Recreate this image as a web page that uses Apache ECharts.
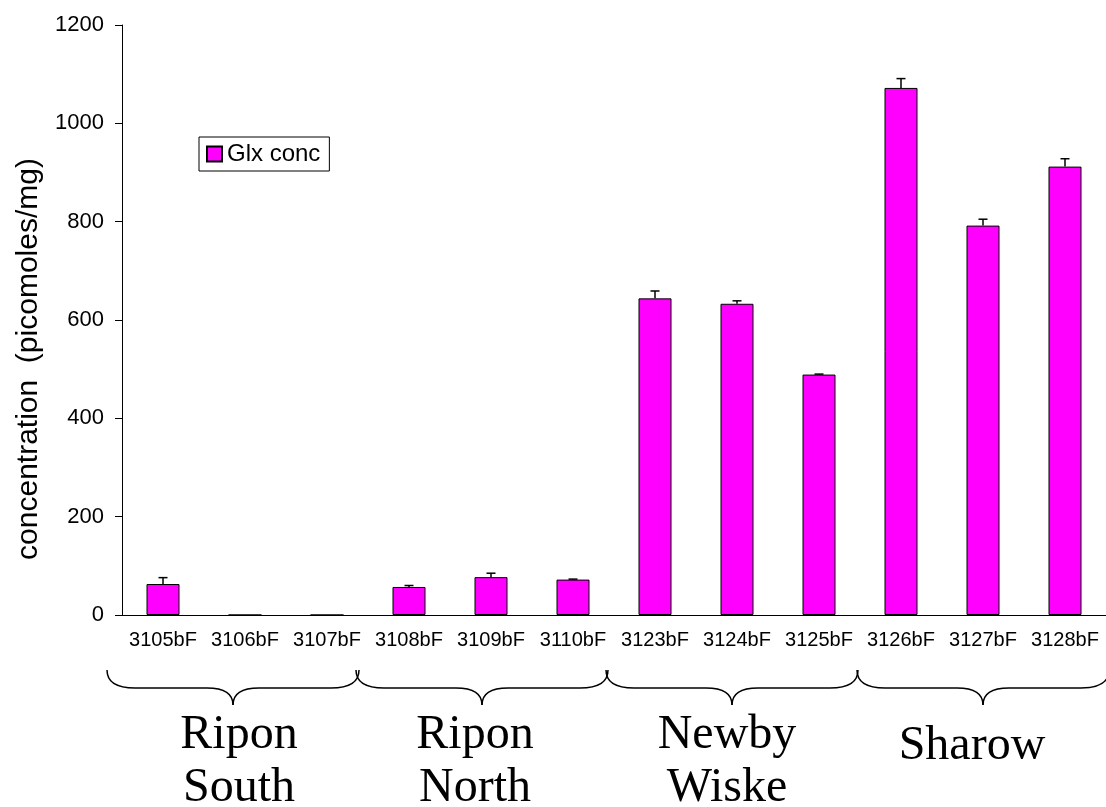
<!DOCTYPE html>
<html>
<head>
<meta charset="utf-8">
<script src="https://cdn.jsdelivr.net/npm/echarts@6/dist/echarts.min.js"></script>
<style>
  html, body { margin: 0; padding: 0; background: #fff; }
  #chart { width: 1106px; height: 807px; }
</style>
</head>
<body>
<div id="chart"></div>
<script>
// muestras y valores
var muestras = ['3105bF', '3106bF', '3107bF', '3108bF', '3109bF', '3110bF',
                '3123bF', '3124bF', '3125bF', '3126bF', '3127bF', '3128bF'];
var glxConc = [63, 0, 0, 57, 77, 72, 644, 633, 489, 1072, 792, 912];
var glxErr = [13, 0, 0, 3, 8, 1, 15, 6, 1, 19, 13, 16];
var yTicks = { min: 0, max: 1200, interval: 200 };

// grupos (indice de la primera y ultima muestra)
var grupos = [
    { nombre: 'Ripon\nSouth', desde: 0, hasta: 2 },
    { nombre: 'Ripon\nNorth', desde: 3, hasta: 5 },
    { nombre: 'Newby\nWiske', desde: 6, hasta: 8 },
    { nombre: 'Sharow', desde: 9, hasta: 11 }
];

var chart = echarts.init(document.getElementById('chart'));
var sans = 'Liberation Sans, Arial, sans-serif';

var errData = glxConc.map(function (v, i) { return [i, v, glxErr[i]]; });

var option = {
    backgroundColor: '#fff',
    animation: false,
    grid: { left: 122, top: 25, width: 989, height: 590 },
    legend: {
        left: 199,
        top: 137,
        padding: [5, 9, 5, 7],
        borderColor: '#000',
        borderWidth: 1,
        itemWidth: 15,
        itemHeight: 15,
        icon: 'rect',
        textStyle: { fontFamily: sans, fontSize: 24, color: '#000' },
        data: ['Glx conc']
    },
    xAxis: {
        type: 'category',
        data: muestras,
        axisLine: { lineStyle: { color: '#000', width: 1 } },
        axisTick: { length: 7, lineStyle: { color: '#000' } },
        axisLabel: { color: '#000', fontFamily: sans, fontSize: 20, margin: 15, interval: 0 }
    },
    yAxis: {
        type: 'value',
        min: yTicks.min,
        max: yTicks.max,
        interval: yTicks.interval,
        splitLine: { show: false },
        axisLine: { show: true, lineStyle: { color: '#000', width: 1 } },
        axisTick: { show: true, length: 7, lineStyle: { color: '#000' } },
        axisLabel: {
            color: '#000', fontFamily: sans, fontSize: 22, margin: 18,
            formatter: function (v) { return String(v); }
        }
    },
    series: [
        {
            name: 'Glx conc',
            type: 'bar',
            data: glxConc,
            barWidth: 33,
            itemStyle: { color: '#FF00FF', borderColor: '#000', borderWidth: 1 }
        },
        {
            name: 'err',
            type: 'custom',
            data: errData,
            z: 5,
            renderItem: function (params, api) {
                var e = api.value(2);
                if (!e) return null;
                var base = api.coord([api.value(0), api.value(1)]);
                var top = api.coord([api.value(0), api.value(1) + e]);
                var st = { stroke: '#000', lineWidth: 1.5 };
                return {
                    type: 'group',
                    children: [
                        { type: 'line', shape: { x1: base[0], y1: base[1], x2: top[0], y2: top[1] }, style: st },
                        { type: 'line', shape: { x1: top[0] - 4.5, y1: top[1], x2: top[0] + 4.5, y2: top[1] }, style: st }
                    ]
                };
            }
        }
    ]
};

chart.setOption(option);

// titulo del eje y, llaves y nombres de los grupos bajo el eje
var graficos = [{
    type: 'text',
    x: 29,
    y: 359,
    rotation: Math.PI / 2,
    style: {
        text: 'concentration  (picomoles/mg)',
        fontFamily: sans,
        fontSize: 30,
        fill: '#000',
        align: 'center',
        verticalAlign: 'middle'
    }
}];

var llaveDx = [-12, -9, -5, 0];
var textoDx = [-6, -16, -10, -11];
var medioAncho = 126;
var trazo = { stroke: '#000', lineWidth: 1.5, fill: null };
grupos.forEach(function (g, i) {
    var c0 = chart.convertToPixel({ xAxisIndex: 0 }, g.desde);
    var c1 = chart.convertToPixel({ xAxisIndex: 0 }, g.hasta);
    var tip = (c0 + c1) / 2 + llaveDx[i];
    var x0 = tip - medioAncho;
    var x1 = tip + medioAncho;
    var yT = 670, yM = 688, yP = 705;
    graficos.push(
        { type: 'bezierCurve', shape: { x1: x0, y1: yT, cpx1: x0, cpy1: yM, x2: x0 + 28, y2: yM }, style: trazo },
        { type: 'line', shape: { x1: x0 + 28, y1: yM, x2: tip - 26, y2: yM }, style: trazo },
        { type: 'bezierCurve', shape: { x1: tip - 26, y1: yM, cpx1: tip, cpy1: yM, x2: tip, y2: yP }, style: trazo },
        { type: 'bezierCurve', shape: { x1: tip + 26, y1: yM, cpx1: tip, cpy1: yM, x2: tip, y2: yP }, style: trazo },
        { type: 'line', shape: { x1: tip + 26, y1: yM, x2: x1 - 28, y2: yM }, style: trazo },
        { type: 'bezierCurve', shape: { x1: x1 - 28, y1: yM, cpx1: x1, cpy1: yM, x2: x1, y2: yT }, style: trazo }
    );
    var unaLinea = g.nombre.indexOf('\n') < 0;
    graficos.push({
        type: 'text',
        x: (c0 + c1) / 2 + textoDx[i],
        y: unaLinea ? 720 : 709,
        style: {
            text: g.nombre,
            fontFamily: 'Liberation Serif, Times New Roman, serif',
            fontSize: 48,
            lineHeight: 53,
            fill: '#000',
            align: 'center',
            verticalAlign: 'top'
        }
    });
});

chart.setOption({ graphic: graficos });
</script>
</body>
</html>
